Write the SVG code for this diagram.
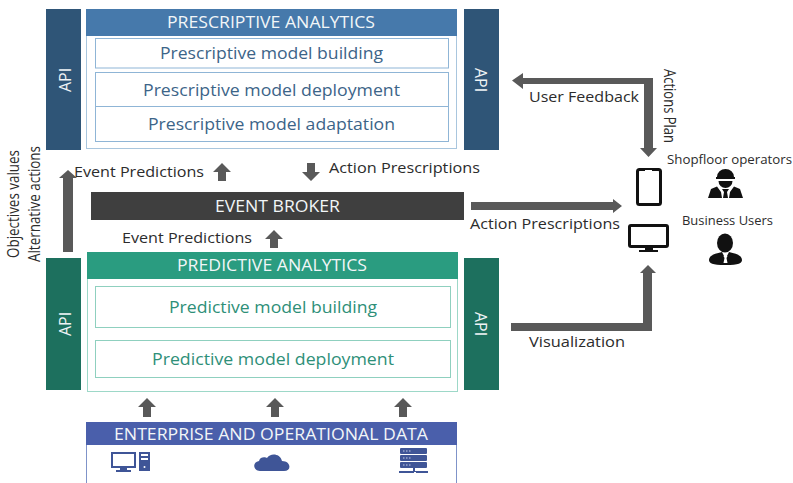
<svg xmlns="http://www.w3.org/2000/svg" width="793" height="483" viewBox="0 0 793 483">
<style>
text{font-family:"Open Sans","Liberation Sans",sans-serif}
.hd{fill:#f2f6f8;font-size:15.500px;text-anchor:middle}
.pb{fill:#3c6488;font-size:15.500px;text-anchor:middle}
.gb{fill:#2e8f78;font-size:15.500px;text-anchor:middle}
.lb{fill:#2c2c2c;font-size:14.500px}
.rt{fill:#2c2c2c;font-size:16.500px}
.sm{fill:#2c2c2c;font-size:12.500px}
.api{fill:#f0f4f6;font-size:16px;text-anchor:middle}
.ar{fill:#595959}
.ik{fill:#111}
.bl{fill:#3f5597}
</style>
<rect width="793" height="483" fill="#fff"/>
<g id="api-presc-left"><rect x="46" y="9" width="35" height="141" fill="#2f5577"/><text class="api" transform="translate(71,80) rotate(-90)">API</text></g>
<g id="api-presc-right"><rect x="464" y="9" width="35" height="141" fill="#2f5577"/><text class="api" transform="translate(475,80) rotate(90)">API</text></g>
<g id="prescriptive">
<rect x="86.500" y="9.500" width="370" height="139" fill="#fff" stroke="#a9c6de"/>
<rect x="86" y="9" width="371" height="27" fill="#4679ab"/>
<text class="hd" x="271" y="27.500" textLength="208" lengthAdjust="spacingAndGlyphs">PRESCRIPTIVE ANALYTICS</text>
<rect x="95.500" y="38.500" width="353" height="29.500" fill="#fff" stroke="#8fb5d6"/>
<text class="pb" x="271.500" y="59" textLength="223" lengthAdjust="spacingAndGlyphs">Prescriptive model building</text>
<rect x="95.500" y="72.500" width="353" height="69" fill="#fff" stroke="#8fb5d6"/>
<line x1="95.500" y1="106.500" x2="448.500" y2="106.500" stroke="#8fb5d6"/>
<text class="pb" x="271.500" y="95.500" textLength="257" lengthAdjust="spacingAndGlyphs">Prescriptive model deployment</text>
<text class="pb" x="271.500" y="129.500" textLength="247" lengthAdjust="spacingAndGlyphs">Prescriptive model adaptation</text>
</g>
<g id="event-broker"><rect x="91" y="192" width="373" height="28" fill="#3f3f3f"/><text class="hd" x="277.500" y="211.500" textLength="125" lengthAdjust="spacingAndGlyphs">EVENT BROKER</text></g>
<g id="api-pred-left"><rect x="46" y="258" width="35" height="132" fill="#1d705e"/><text class="api" transform="translate(71,324) rotate(-90)">API</text></g>
<g id="api-pred-right"><rect x="464" y="258" width="35" height="132" fill="#1d705e"/><text class="api" transform="translate(475,324) rotate(90)">API</text></g>
<g id="predictive">
<rect x="87.500" y="252.500" width="370" height="139" fill="#fff" stroke="#9dd8c8"/>
<rect x="87" y="252" width="371" height="27" fill="#2a9c80"/>
<text class="hd" x="272" y="270.500" textLength="190" lengthAdjust="spacingAndGlyphs">PREDICTIVE ANALYTICS</text>
<rect x="95.500" y="286.500" width="355" height="41" fill="#fff" stroke="#8fd0bf"/>
<text class="gb" x="273" y="313" textLength="208" lengthAdjust="spacingAndGlyphs">Predictive model building</text>
<rect x="95.500" y="340.500" width="355" height="37" fill="#fff" stroke="#8fd0bf"/>
<text class="gb" x="273" y="365" textLength="242" lengthAdjust="spacingAndGlyphs">Predictive model deployment</text>
</g>
<g id="enterprise-data">
<path d="M86.500 422V483M456.500 422V483" fill="none" stroke="#7f93c9"/>
<rect x="86" y="422" width="371" height="23" fill="#4a5fab"/>
<text class="hd" x="271" y="440" textLength="314" lengthAdjust="spacingAndGlyphs">ENTERPRISE AND OPERATIONAL DATA</text>
<g id="icon-computer" class="bl">
<path fill-rule="evenodd" d="M111 452h25v16h-9v2h4v2h-15v-2h4v-2h-9zM113 454v12h21v-12z"/>
<path fill-rule="evenodd" d="M139 452h11v19h-11zM141 454v2h7v-2zM141 458v2h7v-2z"/>
<circle cx="144.500" cy="467" r="1" fill="#fff"/>
</g>
<path id="icon-cloud" class="bl" d="M260 471c-7 0-8-9-1-10 1-5 7-4 8-3 3-5 13-5 15 3 9 0 10 10 2 10z"/>
<g id="icon-server" class="bl">
<rect x="400" y="448" width="27" height="6" rx="1"/><rect x="400" y="455" width="27" height="6" rx="1"/><rect x="400" y="462" width="27" height="6" rx="1"/>
<path d="M413 468h2v3h13v2h-12v-1h-2v1h-15v-2h14z"/>
<path d="M403 451h8M403 458h8M403 465h8" stroke="#c5cde6" stroke-dasharray="1.500 1.500" fill="none"/>
</g>
</g>
<g id="connectors">
<path class="ar" d="M63 252V178H59L68 170L77 178H73V252z"/>
<path class="ar" d="M218 181V172H213L222 163L231 172H226V181z"/>
<path class="ar" d="M307 163V172H302L311 181L320 172H315V163z"/>
<path class="ar" d="M270 248V239H265L274 230L283 239H278V248z"/>
<path class="ar" d="M143 417V407H138L147 398L156 407H151V417z"/>
<path class="ar" d="M271 417V407H266L275 398L284 407H279V417z"/>
<path class="ar" d="M399 417V407H394L403 398L412 407H407V417z"/>
<path class="ar" d="M523 73L512 80.500L523 89V84H644V148H640L648.500 157L657 148H653V78H523z"/>
<path class="ar" d="M471 202H613V199L622 206L613 213V210H471z"/>
<path class="ar" d="M511 323H643V273H640L648 265L656 273H652V331H511z"/>
</g>
<g id="labels">
<text class="lb" x="74" y="177" textLength="130" lengthAdjust="spacingAndGlyphs">Event Predictions</text>
<text class="lb" x="329" y="173" textLength="151" lengthAdjust="spacingAndGlyphs">Action Prescriptions</text>
<text class="lb" x="122" y="243" textLength="130" lengthAdjust="spacingAndGlyphs">Event Predictions</text>
<text class="lb" x="470" y="229" textLength="150" lengthAdjust="spacingAndGlyphs">Action Prescriptions</text>
<text class="lb" x="529" y="102" textLength="110" lengthAdjust="spacingAndGlyphs">User Feedback</text>
<text class="lb" x="529" y="347" textLength="96" lengthAdjust="spacingAndGlyphs">Visualization</text>
<text class="rt" transform="translate(664,69) rotate(90)" textLength="74" lengthAdjust="spacingAndGlyphs">Actions Plan</text>
<text class="rt" transform="translate(19,258) rotate(-90)" textLength="108" lengthAdjust="spacingAndGlyphs">Objectives values</text>
<text class="rt" transform="translate(40,262) rotate(-90)" textLength="116" lengthAdjust="spacingAndGlyphs">Alternative actions</text>
<text class="sm" x="667" y="164" textLength="125" lengthAdjust="spacingAndGlyphs">Shopfloor operators</text>
<text class="sm" x="682" y="225" textLength="91" lengthAdjust="spacingAndGlyphs">Business Users</text>
</g>
<g id="tablet"><rect x="637.500" y="169.500" width="23" height="35" rx="2" fill="#fff" stroke="#111" stroke-width="3"/><rect x="645" y="170" width="7" height="1.500" fill="#fff"/></g>
<g id="monitor">
<rect x="629.500" y="225.500" width="38" height="21" rx="1.500" fill="#fff" stroke="#111" stroke-width="3"/>
<path class="ik" d="M645 247h8v3h5v2h-19v-2h6z"/>
</g>
<g id="operator" class="ik">
<path d="M717 177a8.500 8 0 0 1 17 0h1v2h-19v-2z"/>
<path d="M718.500 181h14a7 7 0 0 1-14 0z"/>
<path d="M708 198l3-9 6-2.500 4 5.500 1 6zM743 198l-3-9-6-2.500-4 5.500-1 6z"/>
<path d="M722 189h7l-2 3 1 6h-5l1-6z"/>
</g>
<g id="business-user" class="ik">
<ellipse cx="725" cy="243" rx="8" ry="9.500"/>
<path fill-rule="evenodd" d="M709 260c0-4 4-6 13-8l2 4h3l2-4c9 2 13 4 13 8 0 3-3 5-16.500 5s-16.500-2-16.500-5z"/>
<path d="M723.500 256h4l-1 2 1 5h-4l1-5z" fill="#fff"/>
</g>
</svg>
